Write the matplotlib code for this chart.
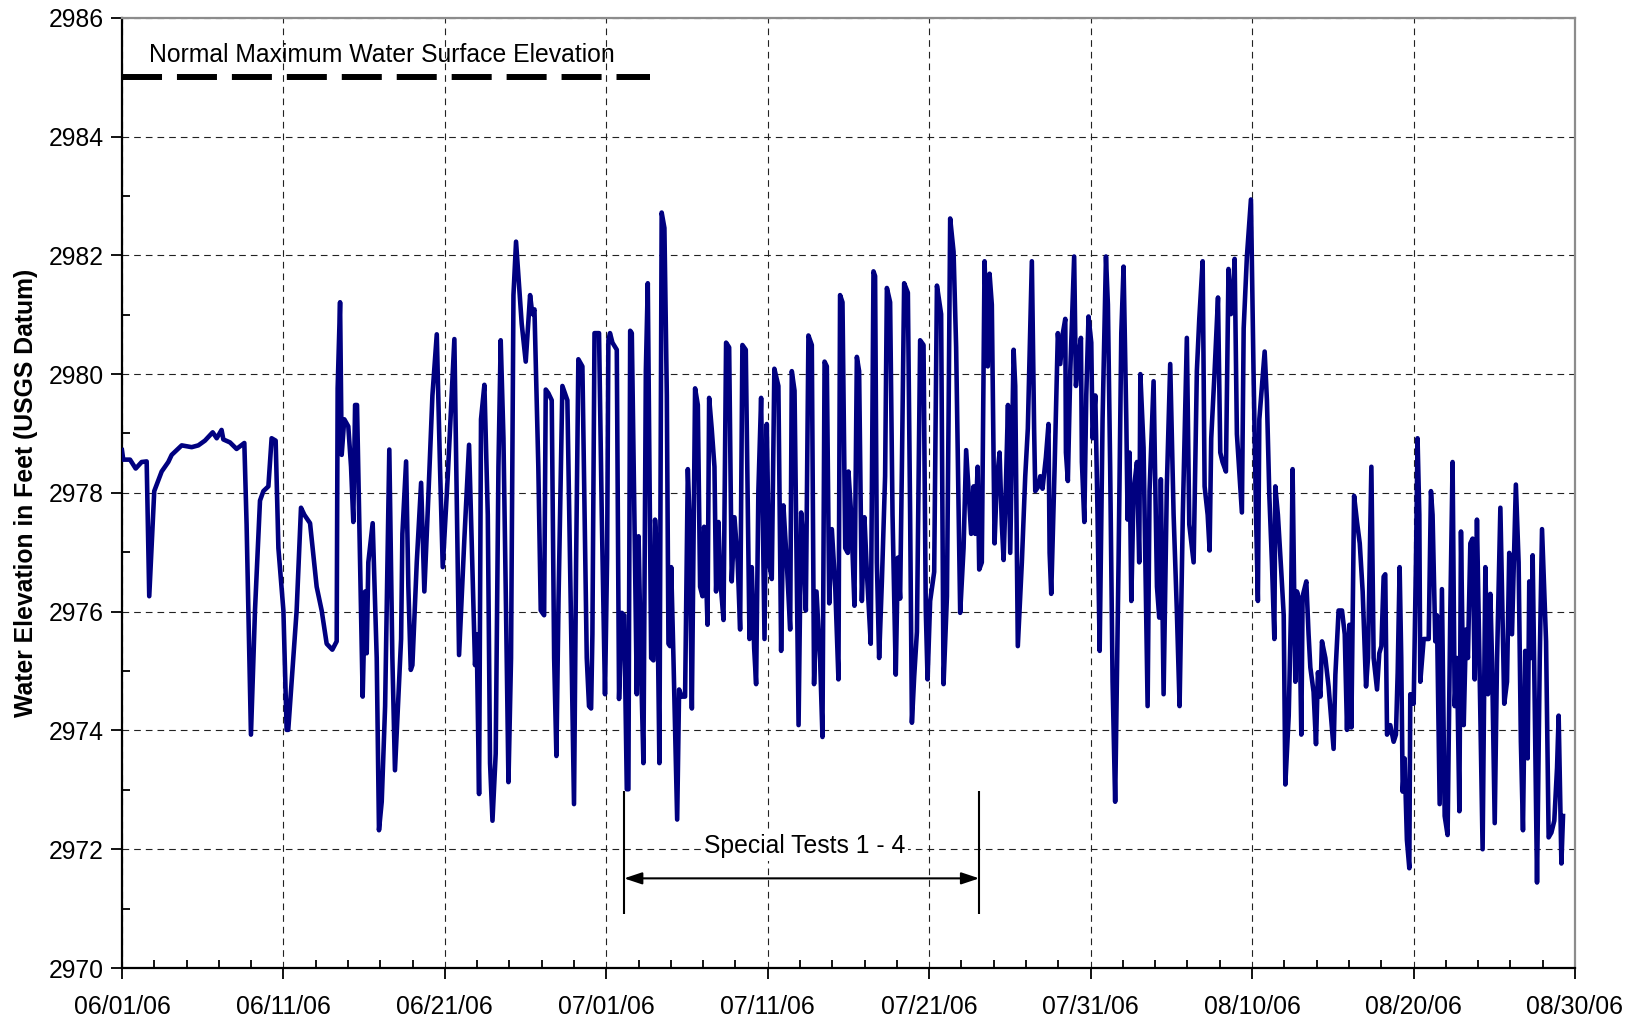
import numpy as np
import pandas as pd
import matplotlib.pyplot as plt
import matplotlib.dates as mdates

# Reservoir elevation record, summer 2006
# days since 06/01/06 and water surface elevation (ft, USGS datum)
dias = [
    0.00, 0.08, 0.50, 0.85, 1.22, 1.53, 1.69, 2.00, 2.46, 2.87, 3.08, 3.70, 4.32, 4.73, 5.14,
    5.62, 5.87, 6.17, 6.28, 6.69, 7.10, 7.58, 7.72, 7.99, 8.24, 8.55, 8.76, 9.07, 9.27, 9.52,
    9.69, 10.00, 10.20, 10.30, 10.82,
    11.09, 11.30, 11.50, 11.65, 12.06, 12.37, 12.68, 13.03, 13.30, 13.36, 13.51, 13.61, 13.77,
    14.02, 14.19, 14.33, 14.44, 14.56, 14.75, 14.91, 15.06, 15.16, 15.26, 15.53, 15.78, 15.92,
    16.09, 16.30, 16.56, 16.75, 16.91, 17.29, 17.37, 17.60, 17.74, 17.89, 17.99, 18.26, 18.53,
    18.73, 18.98, 19.23, 19.50, 19.70, 19.87, 20.18, 20.59, 20.88, 21.21, 21.50, 21.87, 21.97,
    22.12, 22.24,
    22.45, 22.66, 22.80, 22.95, 23.15, 23.32, 23.46, 23.63, 23.79, 23.94, 24.10, 24.25, 24.41,
    24.76, 25.01, 25.28, 25.42, 25.55, 25.79, 25.94, 26.15, 26.25, 26.41, 26.62, 26.77, 26.91,
    27.04, 27.28, 27.59, 27.80, 28.00, 28.13, 28.27, 28.52, 28.79, 28.93, 29.06, 29.14, 29.27,
    29.55, 29.72, 29.92, 30.05, 30.13, 30.23, 30.38, 30.65, 30.79, 30.96, 31.11, 31.27, 31.37,
    31.48, 31.58, 31.74, 31.89, 32.00, 32.14, 32.30, 32.45, 32.57, 32.78, 32.92, 33.02, 33.13,
    33.29, 33.43,
    33.60, 33.75, 33.85, 33.95, 34.02, 34.16, 34.39, 34.51, 34.67, 34.88, 35.05, 35.15, 35.30,
    35.50, 35.67, 35.81, 35.96, 36.06, 36.12, 36.27, 36.37, 36.53, 36.70, 36.80, 36.95, 37.05,
    37.26, 37.42, 37.61, 37.77, 37.94, 38.14, 38.29, 38.43, 38.64, 38.87, 39.01, 39.16, 39.28,
    39.42, 39.59, 39.80, 39.94, 40.08, 40.25, 40.41, 40.66, 40.83, 40.97, 41.18, 41.39, 41.49,
    41.66, 41.91, 42.07, 42.21, 42.36, 42.52, 42.73, 42.87, 43.02, 43.25, 43.39, 43.52, 43.66,
    43.81, 43.97, 44.18, 44.38,
    44.48, 44.63, 44.80, 44.96, 45.00, 45.17, 45.37, 45.52, 45.66, 45.83, 45.99, 46.14, 46.38,
    46.55, 46.65, 46.76, 46.90, 47.07, 47.27, 47.38, 47.58, 47.73, 47.93, 48.06, 48.20, 48.31,
    48.45, 48.68, 48.82, 48.93, 49.07, 49.24, 49.44, 49.65, 49.79, 49.90, 50.06, 50.31, 50.48,
    50.74, 50.89, 51.10, 51.20, 51.30, 51.51, 51.67, 51.92, 52.13, 52.29, 52.44, 52.60, 52.75,
    52.85, 53.00, 53.10, 53.26, 53.43, 53.63, 53.74, 53.88, 54.05, 54.19, 54.36, 54.50, 54.61,
    54.75, 54.88, 55.02, 55.23, 55.33,
    55.49, 55.74, 55.95, 56.11, 56.36, 56.50, 56.57, 56.77, 56.88, 57.02, 57.23, 57.39, 57.46,
    57.56, 57.77, 57.97, 58.12, 58.28, 58.43, 58.47, 58.59, 58.74, 58.98, 59.09, 59.25, 59.40,
    59.46, 59.61, 59.73, 59.87, 60.04, 60.12, 60.29, 60.43, 60.56, 60.74, 60.95, 61.07, 61.21,
    61.36, 61.52, 61.73, 61.90, 62.04, 62.21, 62.29, 62.41, 62.52, 62.66, 62.87, 63.01, 63.08,
    63.28, 63.53, 63.65, 63.90, 64.11, 64.25, 64.35, 64.52, 64.72, 64.93, 65.14, 65.34, 65.51,
    65.71, 65.96, 66.11, 66.38,
    66.58, 66.73, 66.94, 67.06, 67.25, 67.37, 67.47, 67.68, 67.89, 68.03, 68.17, 68.38, 68.54,
    68.69, 68.79, 68.92, 69.06, 69.37, 69.48, 69.68, 69.93, 70.09, 70.24, 70.36, 70.45, 70.61,
    70.78, 70.92, 71.07, 71.23, 71.38, 71.44, 71.60, 71.81, 71.96, 72.06, 72.27, 72.41, 72.51,
    72.68, 72.78, 72.92, 73.05, 73.13, 73.36, 73.50, 73.61, 73.81, 73.96, 74.08, 74.23, 74.33,
    74.54, 74.74, 74.91, 75.05, 75.16, 75.36, 75.57, 75.74, 75.88, 76.03, 76.15, 76.32, 76.50,
    76.67, 76.85, 77.06, 77.18, 77.39, 77.53,
    77.74, 77.88, 78.01, 78.15, 78.25, 78.36, 78.56, 78.77, 78.91, 79.02, 79.14, 79.24, 79.33,
    79.45, 79.59, 79.74, 79.80, 80.01, 80.15, 80.25, 80.36, 80.42, 80.63, 80.94, 81.08, 81.18,
    81.35, 81.45, 81.62, 81.76, 81.93, 82.11, 82.28, 82.42, 82.55, 82.69, 82.84, 82.94, 83.11,
    83.25, 83.37, 83.52, 83.66, 83.79, 83.93, 84.08, 84.28, 84.45, 84.61, 84.76, 84.86, 85.03,
    85.17, 85.38, 85.62, 85.79, 85.93, 86.10, 86.34, 86.51, 86.65, 86.78, 86.92, 87.07, 87.17,
    87.30, 87.38, 87.51, 87.65, 87.82, 87.96, 88.21, 88.37, 88.54, 88.72, 88.89, 88.99, 89.16,
    89.26,
]
elevacao = [
    2978.72, 2978.56, 2978.56, 2978.41, 2978.52, 2978.53, 2976.26, 2978.03, 2978.36, 2978.52,
    2978.64, 2978.80, 2978.77, 2978.80, 2978.88, 2979.02, 2978.92, 2979.06, 2978.90, 2978.85,
    2978.74, 2978.84, 2977.47, 2973.93, 2976.02, 2977.87, 2978.03, 2978.11, 2978.92, 2978.88,
    2977.07, 2976.02, 2974.01, 2974.01, 2976.02,
    2977.75, 2977.63, 2977.55, 2977.49, 2976.42, 2976.02, 2975.46, 2975.36, 2975.50, 2979.76,
    2981.21, 2978.64, 2979.24, 2979.12, 2978.44, 2977.51, 2979.48, 2979.48, 2976.83, 2974.57,
    2976.34, 2975.30, 2976.83, 2977.49, 2975.22, 2972.32, 2972.80, 2974.41, 2978.73, 2975.22,
    2973.33, 2975.54, 2977.31, 2978.53, 2976.42, 2975.02, 2975.10, 2976.83, 2978.17, 2976.34,
    2977.95, 2979.64, 2980.67, 2978.44, 2976.75, 2978.28, 2980.59, 2975.27, 2977.23, 2978.81,
    2975.10, 2975.62, 2972.93, 2979.24,
    2979.82, 2977.63, 2973.45, 2972.48, 2973.61, 2978.44, 2980.57, 2978.92, 2976.02, 2973.13,
    2975.22, 2981.33, 2982.23, 2980.85, 2980.21, 2981.33, 2981.01, 2981.09, 2978.44, 2976.02,
    2975.94, 2979.74, 2979.68, 2979.56, 2975.22, 2973.57, 2976.18, 2979.80, 2979.56, 2976.02,
    2972.76, 2976.83, 2980.25, 2980.13, 2975.22, 2974.41, 2974.37, 2975.62, 2980.69, 2980.69,
    2977.63, 2974.61, 2976.90, 2980.57, 2980.69, 2980.53, 2980.41, 2974.53, 2975.98, 2975.94,
    2973.01, 2973.01, 2980.73, 2980.69, 2977.63, 2974.61, 2977.27, 2975.22, 2973.45, 2980.05,
    2981.53, 2975.22, 2975.18, 2977.55, 2976.99, 2973.45, 2982.72,
    2982.46, 2979.64, 2975.46, 2975.42, 2976.75, 2975.22, 2972.50, 2974.69, 2974.57, 2974.57,
    2978.40, 2977.63, 2974.37, 2979.76, 2979.48, 2976.42, 2976.26, 2977.43, 2977.15, 2975.78,
    2979.60, 2979.08, 2978.44, 2976.34, 2977.51, 2976.59, 2975.86, 2980.53, 2980.45, 2976.51,
    2977.59, 2976.83, 2975.70, 2980.49, 2980.41, 2975.54, 2976.75, 2975.38, 2974.78, 2978.03,
    2979.60, 2975.54, 2979.16, 2976.83, 2976.55, 2980.09, 2979.80, 2975.34, 2977.79, 2976.83,
    2975.70, 2980.05, 2979.72, 2974.09, 2977.67, 2977.15, 2976.02, 2980.65, 2980.49, 2974.78,
    2976.34, 2975.14, 2973.89, 2980.21, 2980.13, 2976.14, 2977.39, 2976.42, 2974.86,
    2981.33, 2981.21, 2977.07, 2976.99, 2978.36, 2977.63, 2976.10, 2980.29, 2980.05, 2976.18,
    2977.59, 2976.67, 2975.46, 2981.73, 2981.65, 2976.83, 2975.22, 2976.51, 2978.28, 2981.45,
    2981.21, 2977.63, 2974.94, 2976.91, 2976.22, 2978.44, 2981.53, 2981.37, 2977.63, 2974.13,
    2974.90, 2975.66, 2980.57, 2980.49, 2976.02, 2974.86, 2976.18, 2976.67, 2981.49, 2981.01,
    2974.78, 2976.26, 2979.24, 2982.62, 2982.06, 2980.45, 2975.98, 2977.07, 2978.72, 2978.03,
    2977.31, 2978.11, 2977.31, 2978.44, 2976.71, 2976.83, 2981.90, 2980.13, 2981.69, 2981.17,
    2977.15, 2978.20, 2978.68, 2977.47, 2976.87, 2978.11, 2979.48, 2976.99, 2980.41, 2979.80,
    2975.42, 2976.83, 2978.28, 2979.08, 2981.90, 2979.08, 2978.03, 2978.11, 2978.28, 2978.07,
    2978.60, 2979.16, 2976.99, 2976.30, 2978.44, 2980.69, 2980.17, 2980.69, 2980.93, 2978.68,
    2978.20, 2980.05, 2981.98, 2979.80, 2980.29, 2980.61, 2978.52, 2977.51, 2979.64, 2980.97,
    2980.53, 2978.92, 2979.64, 2977.63, 2975.34, 2979.24, 2981.98, 2981.17, 2978.44, 2974.82,
    2972.80, 2976.83, 2980.69, 2981.81, 2979.24, 2977.55, 2978.68, 2976.18, 2978.03, 2978.52,
    2976.83, 2980.00, 2978.76, 2974.41, 2978.03, 2979.88, 2976.42, 2975.90, 2978.23, 2974.61,
    2978.11, 2980.17, 2977.63, 2976.02, 2974.41, 2977.63, 2980.61, 2977.47, 2976.83,
    2980.05, 2980.93, 2981.90, 2978.11, 2977.63, 2977.03, 2978.92, 2980.05, 2981.29, 2978.68,
    2978.52, 2978.36, 2981.77, 2981.01, 2981.17, 2981.94, 2978.99, 2977.67, 2980.77, 2981.98,
    2982.94, 2980.05, 2977.71, 2976.18, 2979.24, 2979.80, 2980.38, 2979.56, 2977.95, 2976.83,
    2975.54, 2978.11, 2977.63, 2976.67, 2975.94, 2973.09, 2974.25, 2976.02, 2978.40, 2974.82,
    2976.34, 2976.18, 2973.93, 2976.26, 2976.51, 2975.62, 2975.06, 2974.65, 2973.77, 2974.98,
    2974.57, 2975.50, 2975.22, 2974.74, 2974.17, 2973.69, 2974.94, 2976.02, 2976.02, 2975.62,
    2974.01, 2975.78, 2974.05, 2977.95, 2977.51, 2977.15, 2976.34, 2974.74, 2975.22, 2978.44,
    2975.22,
    2974.69, 2975.30, 2975.42, 2976.59, 2976.63, 2973.93, 2974.09, 2973.81, 2973.93, 2974.98,
    2976.75, 2975.22, 2972.97, 2973.53, 2972.16, 2971.68, 2974.61, 2974.45, 2976.83, 2978.92,
    2977.63, 2974.82, 2975.54, 2975.54, 2978.03, 2977.63, 2975.50, 2975.94, 2972.76, 2976.38,
    2972.56, 2972.24, 2976.02, 2978.52, 2974.41, 2975.22, 2972.64, 2977.35, 2974.09, 2975.70,
    2975.22, 2977.15, 2977.23, 2974.86, 2977.55, 2975.22, 2972.00, 2976.75, 2974.61, 2976.30,
    2975.22, 2972.44, 2975.14, 2977.75, 2974.45, 2974.82, 2976.99, 2975.62, 2978.14, 2976.83,
    2973.81, 2972.32, 2975.34, 2973.53, 2976.51, 2975.22, 2976.95, 2974.41, 2971.44, 2975.22,
    2977.39, 2975.50, 2972.20, 2972.28, 2972.48, 2973.37, 2974.25, 2971.76, 2972.56,
]

# Reference level and test period
nivel_max = 2985.0
nivel_fim = 32.7            # days, end of the reference line
testes_ini, testes_fim = 31.1, 53.1

plt.rcParams["font.family"] = ["Liberation Sans", "DejaVu Sans"]

inicio = pd.Timestamp("2006-06-01")
datas = inicio + pd.to_timedelta(dias, unit="D")


def dia(d):
    return inicio + pd.Timedelta(days=d)


fig = plt.figure(figsize=(16.37, 10.19), dpi=100, facecolor="white")
ax = fig.add_axes([0.0745, 0.0500, 0.8876, 0.9326])

# Elevation series
ax.plot(datas, elevacao, color="#000080", lw=3.3, solid_joinstyle="round", zorder=3)

# Normal maximum water surface
ax.plot([dia(0), dia(nivel_fim)], [nivel_max, nivel_max], color="black", lw=4.3,
        linestyle=(0, (6.7, 2.5)), zorder=4, clip_on=False)
ax.text(dia(1.67), 2985.26, "Normal Maximum Water Surface Elevation",
        fontsize=17.8, ha="left", va="baseline")

# Special tests bracket
ax.vlines([dia(testes_ini), dia(testes_fim)], 2970.91, 2972.98, colors="black", lw=1.5)
ax.annotate("", xy=(dia(testes_fim), 2971.51), xytext=(dia(testes_ini), 2971.51),
            arrowprops=dict(arrowstyle="<|-|>,head_length=0.6,head_width=0.2",
                            mutation_scale=18, color="black", lw=1.5,
                            shrinkA=0, shrinkB=0))
ax.text(dia((testes_ini + testes_fim) / 2 + 0.2), 2971.94, "Special Tests 1 - 4",
        fontsize=17.8, ha="center", va="baseline", zorder=5,
        bbox=dict(facecolor="white", edgecolor="none", pad=2))

# Axes limits and ticks
ax.set_xlim(dia(0), dia(90))
ax.set_ylim(2970, 2986)
ax.set_xticks(pd.date_range(inicio, periods=10, freq="10D"))
ax.set_xticks(pd.date_range(inicio, periods=46, freq="2D"), minor=True)
ax.xaxis.set_major_formatter(mdates.DateFormatter("%m/%d/%y"))
ax.set_yticks(np.arange(2970, 2987, 2))
ax.set_yticks(np.arange(2971, 2986, 2), minor=True)

ax.tick_params(which="major", direction="out", length=8, width=1.3, labelsize=17.8)
ax.tick_params(which="minor", direction="in", length=6, width=1.3)
ax.tick_params(axis="x", which="major", pad=11.5)
ax.tick_params(axis="y", which="major", pad=5)

ax.grid(True, which="major", color="#222222", lw=0.8, linestyle=(0, (6, 4.5)))
ax.set_axisbelow(True)

for lado in ["left", "bottom"]:
    ax.spines[lado].set_color("black")
    ax.spines[lado].set_linewidth(1.6)
for lado in ["top", "right"]:
    ax.spines[lado].set_color("#8c8c8c")
    ax.spines[lado].set_linewidth(1.6)

ax.set_ylabel("Water Elevation in Feet (USGS Datum)", fontsize=17.8, fontweight="bold")
ax.yaxis.set_label_coords(-0.0575, 0.5)

fig.savefig("out.png", dpi=100, facecolor="white")
